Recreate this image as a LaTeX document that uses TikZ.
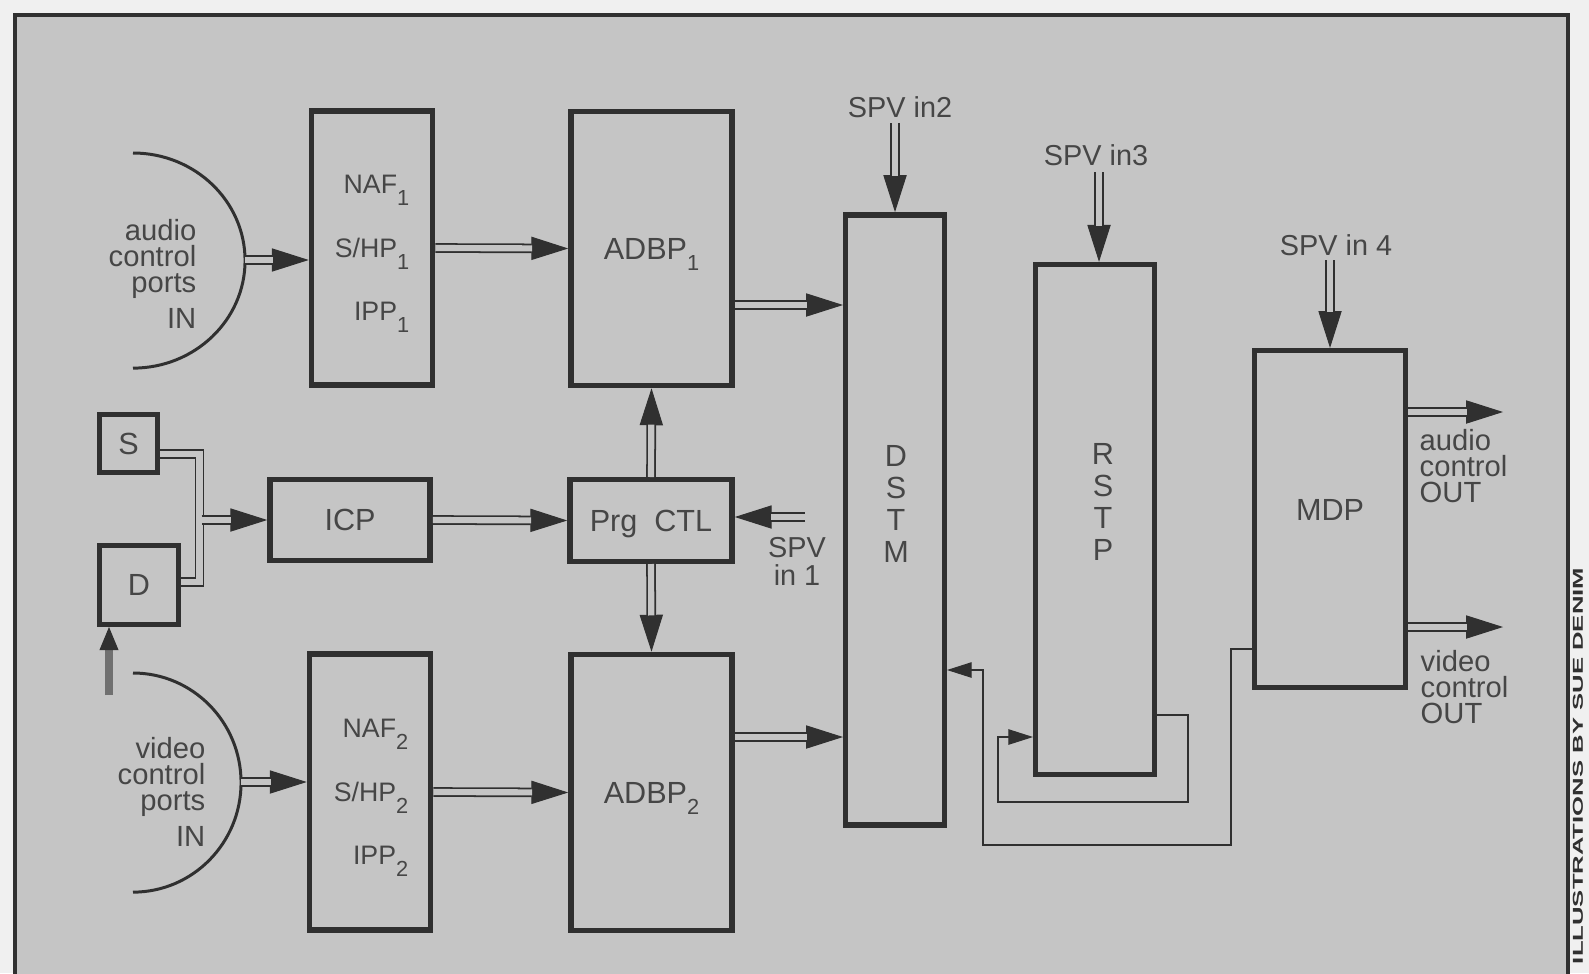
\documentclass[tikz,border=0pt]{standalone}
\usepackage{fontspec}
\setmainfont{Liberation Sans}
\usepackage{graphicx}
\usepackage{xcolor}
\usetikzlibrary{arrows.meta}
\definecolor{paper}{RGB}{197,197,197}
\definecolor{page}{RGB}{240,240,240}
\definecolor{ink}{RGB}{48,48,48}
\definecolor{txt}{RGB}{70,70,70}
\definecolor{shaft}{RGB}{112,112,112}
\newcommand{\idx}[1]{\raisebox{-3.4pt}{\fontsize{6.2}{6.2}\selectfont #1}}

\begin{document}
\begin{tikzpicture}[x=0.01cm, y=-0.01cm,
		framebox/.style={draw=ink, line width=1.2pt, fill=paper},
		box/.style={draw=ink, line width=1.55pt, text=txt, inner sep=0pt, text depth=0pt, font=\fontsize{8.7}{10.4}\selectfont},
		rstack/.style={text=txt, inner sep=0pt, text depth=0pt, align=right, font=\fontsize{7.6}{18.1}\selectfont},
		vstack/.style={text=txt, inner sep=0pt, text depth=0pt, align=center, font=\fontsize{8.7}{9.1}\selectfont},
		porttext/.style={text=txt, inner sep=0pt, font=\fontsize{8.3}{7.4}\selectfont},
		spvtext/.style={text=txt, inner sep=0pt, align=center, font=\fontsize{8.2}{8}\selectfont},
		port/.style={draw=ink, line width=0.85pt},
		pipe/.style={draw=ink, line width=0.5pt, double=paper, double distance=1.75pt},
		pipearrow/.style={draw=ink, line width=2.75pt, -{Triangle[length=10.5pt, width=6.6pt, line width=0.3pt]},
			postaction={draw=paper, line width=1.75pt, shorten >=10.3pt, arrows=-}},
		wire/.style={draw=ink, line width=0.6pt, -{Triangle[length=7pt, width=4.4pt, line width=0.3pt]}},
		dline/.style={draw=shaft, line width=2.3pt, -{Triangle[length=6.6pt, width=5.4pt, line width=0.3pt, color=ink]}},
		credit/.style={text=ink, inner sep=0pt, font=\bfseries}
	]
	\useasboundingbox (0,0) rectangle (1589,973);
	\fill[page] (0,0) rectangle (1589,973);
	\draw[framebox] (15,15) rectangle (1568,1000);
	\node[credit, rotate=90] (cred) at (1578,766) {\resizebox{3.96cm}{0.1cm}{ILLUSTRATIONS BY SUE DENIM}};

	% blocks
	\node[box, minimum width=1.21cm, minimum height=2.74cm] (NAF1) at (372,248) {};
	\node[box, minimum width=1.21cm, minimum height=2.76cm] (NAF2) at (370,792) {};
	\node[box, minimum width=1.61cm, minimum height=2.74cm] (ADBP1) at (651.5,248.5) {ADBP\idx{1}};
	\node[box, minimum width=1.61cm, minimum height=2.76cm] (ADBP2) at (651.5,792.5) {ADBP\idx{2}};
	\node[box, minimum width=1.62cm, minimum height=0.815cm] (Prg) at (651,520.5) {Prg~~CTL};
	\node[box, minimum width=1.6cm, minimum height=0.805cm] (ICP) at (350,520) {ICP};
	\node[box, minimum width=0.575cm, minimum height=0.575cm] (S) at (128.5,443.5) {S};
	\node[box, minimum width=0.785cm, minimum height=0.785cm] (D) at (139,585) {D};
	\node[box, minimum width=0.985cm, minimum height=6.1cm] (DSTM) at (895,520) {};
	\node[box, minimum width=1.185cm, minimum height=5.095cm] (RSTP) at (1095,519.5) {};
	\node[box, minimum width=1.505cm, minimum height=3.365cm] (MDP) at (1330,519) {};

	\node[rstack] (NAF1t) at (372,248) {NAF\idx{1}\\S/HP\idx{1}\\IPP\idx{1}};
	\node[rstack] (NAF2t) at (371,792) {NAF\idx{2}\\S/HP\idx{2}\\IPP\idx{2}};
	\node[vstack] (DSTMt) at (896,504) {D\\S\\T\\M};
	\node[vstack] (RSTPt) at (1103,502) {R\\S\\T\\P};
	\node[vstack] (MDPt) at (1330,510) {MDP};

	% ports
	\draw[port] (133,153) arc[start angle=90, end angle=-90, x radius=1.12cm, y radius=1.075cm];
	\draw[port] (133,673) arc[start angle=90, end angle=-90, x radius=1.08cm, y radius=1.095cm];
	\node[porttext, align=right, anchor=east] (audIn) at (197,274) {audio\\control\\ports\\[2pt]IN};
	\node[porttext, align=right, anchor=east] (vidIn) at (206,792) {video\\control\\ports\\[2pt]IN};
	\node[porttext, align=left, anchor=west] (audOut) at (1419,466) {audio\\control\\OUT};
	\node[porttext, align=left, anchor=west] (vidOut) at (1420,687) {video\\control\\OUT};

	\node[spvtext] (spv1t) at (797,561) {SPV\\in 1};
	\node[spvtext] (spv2t) at (900,107) {SPV in2};
	\node[spvtext] (spv3t) at (1096,155) {SPV in3};
	\node[spvtext] (spv4t) at (1336,245) {SPV in 4};

	\coordinate (aIn) at (245,260);
	\coordinate (vIn) at (241,782);
	\coordinate (sj) at (199.5,454);
	\coordinate (dj) at (199.5,582);
	\coordinate (icpj) at (201.5,520);
	\coordinate (dIn) at (109,695);
	\coordinate (spv1) at (805,517);
	\coordinate (spv2) at (895,123);
	\coordinate (spv3) at (1099,172);
	\coordinate (spv4) at (1330,260);
	\coordinate (a1o) at (740,305);
	\coordinate (a2o) at (740,737);
	\coordinate (aOut) at (1503,412);
	\coordinate (vOut) at (1503,627);
	\coordinate (r1) at (1188,715);
	\coordinate (r2) at (998,802);
	\coordinate (r3) at (998,737);
	\coordinate (m1) at (1231,649);
	\coordinate (m2) at (983,845);
	\coordinate (m3) at (983,670);

	% connectors
	\draw[pipe] (S.east |- sj) -- (sj) -- (dj) -- (D.east |- dj);
	\draw[pipearrow] (icpj) -- (icpj -| ICP.west);
	\draw[pipearrow] (aIn) -- (aIn -| NAF1.west);
	\draw[pipearrow] (vIn) -- (vIn -| NAF2.west);
	\foreach \S/\E in {NAF1.east/ADBP1.west, NAF2.east/ADBP2.west, ICP.east/Prg.west,
		Prg.north/ADBP1.south, Prg.south/ADBP2.north, spv2/DSTM.north, spv4/MDP.north}
		\draw[pipearrow] (\S) -- (\E);
	\draw[pipearrow] (spv1) -- (spv1 -| Prg.east);
	\draw[pipearrow] (spv3) -- (spv3 |- RSTP.north);
	\draw[pipearrow] (ADBP1.east |- a1o) -- (DSTM.west |- a1o);
	\draw[pipearrow] (ADBP2.east |- a2o) -- (DSTM.west |- a2o);
	\draw[pipearrow] (MDP.east |- aOut) -- (aOut);
	\draw[pipearrow] (MDP.east |- vOut) -- (vOut);
	\draw[dline] (dIn) -- (dIn |- D.south);
	\draw[wire] (RSTP.east |- r1) -- (r1) |- (r2) -- (r3) -- (RSTP.west |- r3);
	\draw[wire] (MDP.west |- m1) -- (m1) |- (m2) -- (m3) -- (DSTM.east |- m3);
\end{tikzpicture}
\end{document}
